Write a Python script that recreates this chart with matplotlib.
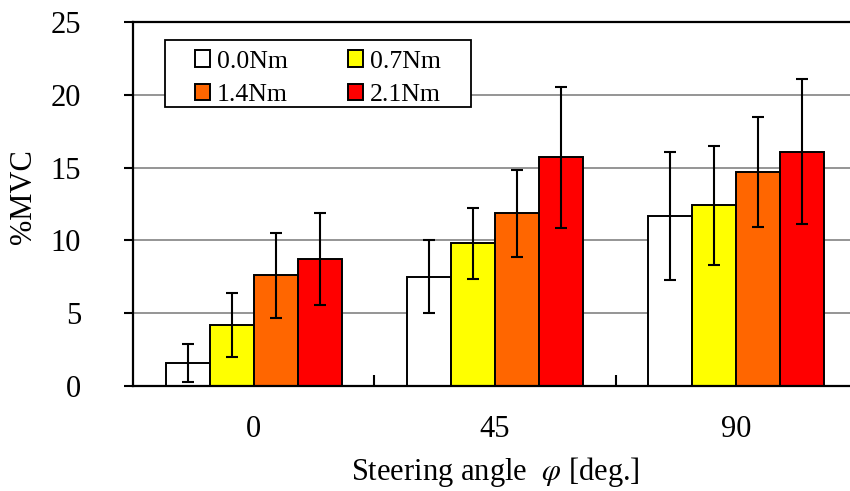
import matplotlib.pyplot as plt
import numpy as np
from matplotlib.patches import Rectangle

plt.rcParams["font.family"] = ["Liberation Serif", "DejaVu Serif"]
plt.rcParams["mathtext.fontset"] = "stix"

# steering angle groups and torque conditions
angles = ["0", "45", "90"]
torques = ["0.0Nm", "0.7Nm", "1.4Nm", "2.1Nm"]
colors = ["#FFFFFF", "#FFFF00", "#FF6600", "#FF0000"]

# mean %MVC per torque (rows) and angle (columns)
mvc_00 = [1.6, 7.5, 11.7]
mvc_07 = [4.2, 9.8, 12.4]
mvc_14 = [7.6, 11.85, 14.7]
mvc_21 = [8.7, 15.7, 16.1]

# standard deviations
sd_00 = [1.3, 2.5, 4.4]
sd_07 = [2.2, 2.45, 4.1]
sd_14 = [2.9, 3.0, 3.75]
sd_21 = [3.15, 4.85, 5.0]

means = [mvc_00, mvc_07, mvc_14, mvc_21]
sds = [sd_00, sd_07, sd_14, sd_21]

fig = plt.figure(figsize=(8.5, 4.91), dpi=100)
ax = fig.add_axes([133 / 850, 1 - 386 / 491, 724 / 850, 364 / 491])

x = np.arange(len(angles))
w = 0.182
bars = []
for k in range(len(torques)):
    b = ax.bar(x + (k - 1.5) * w, means[k], w, color=colors[k], edgecolor="black",
               linewidth=1.4, label=torques[k], zorder=2,
               yerr=sds[k], error_kw=dict(ecolor="black", elinewidth=1.5,
                                          capsize=4.3, capthick=1.5, zorder=3))
    bars.append(b)

ax.set_xlim(-0.5, 2.5)
ax.set_ylim(0, 25)
ax.set_yticks(range(0, 26, 5))
ax.yaxis.grid(True, color="#8c8c8c", linewidth=1.3, zorder=0)
ax.set_axisbelow(True)

ax.set_xticks(x)
ax.set_xticklabels(angles)
ax.set_xticks([0.5, 1.5], minor=True)
ax.tick_params(axis="x", which="major", length=0, pad=21, labelsize=22)
ax.tick_params(axis="x", which="minor", direction="in", length=8, width=1.5)
ax.tick_params(axis="y", direction="out", length=6.5, width=1.5, pad=31, labelsize=22)

for side in ["left", "bottom", "top", "right"]:
    ax.spines[side].set_linewidth(1.6)

ax.set_ylabel("%MVC", fontsize=22)
ax.yaxis.set_label_coords(-0.131, 0.52)
ax.set_xlabel(r"Steering angle  $\varphi$ [deg.]", fontsize=22, labelpad=8)

# legend box, then the entries row by row on top of it
ax.add_patch(Rectangle((0.044, 0.7665), 0.4227, 0.184, transform=ax.transAxes,
                       facecolor="white", edgecolor="black", linewidth=1.3, zorder=4))
order = [0, 2, 1, 3]
leg = ax.legend([bars[i] for i in order], [torques[i] for i in order],
                ncol=2, loc="upper left", bbox_to_anchor=(0.0856, 0.922),
                borderaxespad=0, borderpad=0, frameon=False,
                fontsize=18.5, handlelength=0.6, handleheight=0.6, handletextpad=0.25,
                columnspacing=2.35, labelspacing=0.43)
leg.set_zorder(5)

fig.savefig("out.png", dpi=100)
